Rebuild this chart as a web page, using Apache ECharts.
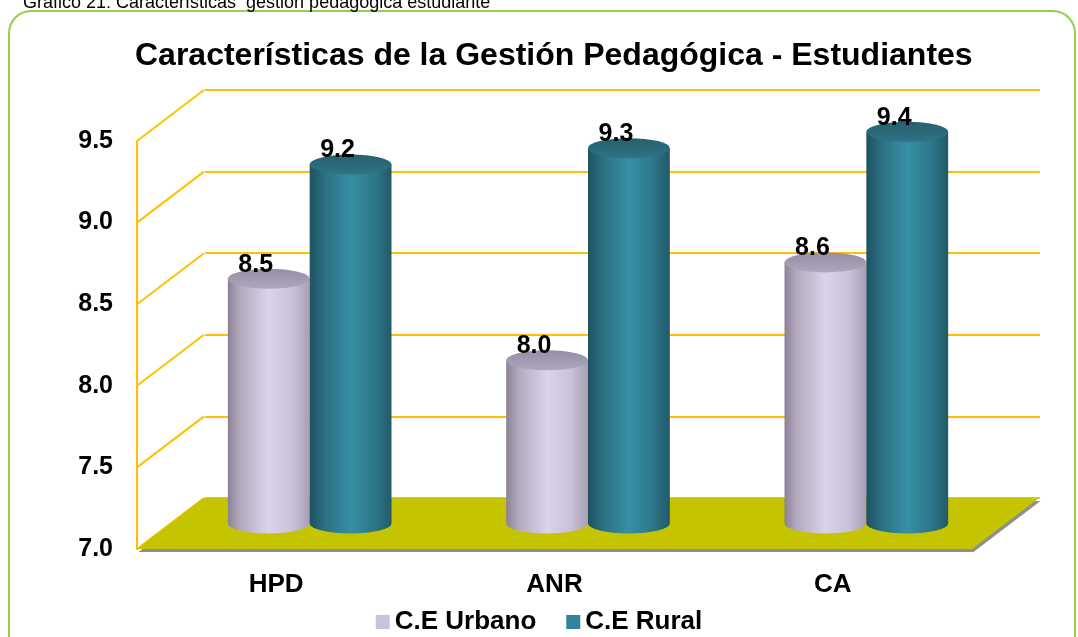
<!DOCTYPE html>
<html>
<head>
<meta charset="utf-8">
<script src="https://cdn.jsdelivr.net/npm/echarts@6/dist/echarts.min.js"></script>
<style>
  html, body { margin: 0; padding: 0; background: #fff; }
  #chart { width: 1078px; height: 637px; }
</style>
</head>
<body>
<div id="chart"></div>
<script>
// datos
var categorias = ['HPD', 'ANR', 'CA'];
var urbano = [8.5, 8.0, 8.6];
var rural = [9.2, 9.3, 9.4];
var yTicks = [7.0, 7.5, 8.0, 8.5, 9.0, 9.5];
var yMin = 7, yMax = 9.5, yStep = 0.5;

// profundidad del "3D"
var DX = 67, DY = -51;
var FONT = '"Liberation Sans", Arial, sans-serif';

var myChart = echarts.init(document.getElementById('chart'));

function cilindro(side, topA, topB, stops) {
    return function (params, api) {
        var cat = api.value(0), val = api.value(1);
        var band = api.size([1, 0])[0];
        var rx = band * 0.147, ry = 10;
        var top = api.coord([cat, val]);
        var base = api.coord([cat, yMin]);
        var cx = top[0] + DX / 2 + side * rx;
        var yt = top[1] + DY / 2;
        var yb = base[1] + DY / 2;
        var body = 'M' + (cx - rx) + ' ' + yt + ' L' + (cx - rx) + ' ' + yb +
            ' A' + rx + ' ' + ry + ' 0 0 0 ' + (cx + rx) + ' ' + yb +
            ' L' + (cx + rx) + ' ' + yt + ' Z';
        var tapa = 'M' + (cx - rx) + ' ' + yt +
            ' A' + rx + ' ' + ry + ' 0 1 0 ' + (cx + rx) + ' ' + yt +
            ' A' + rx + ' ' + ry + ' 0 1 0 ' + (cx - rx) + ' ' + yt + ' Z';
        return {
            type: 'group',
            children: [{
                type: 'path',
                shape: { pathData: body },
                style: { fill: new echarts.graphic.LinearGradient(0, 0, 1, 0, stops) }
            }, {
                type: 'path',
                shape: { pathData: tapa },
                style: {
                    fill: new echarts.graphic.LinearGradient(0, 0, 0, 1, [
                        { offset: 0, color: topA }, { offset: 1, color: topB }
                    ])
                }
            }, {
                type: 'text',
                style: {
                    text: val.toFixed(1),
                    x: cx - 13,
                    y: yt - 14,
                    align: 'center',
                    verticalAlign: 'middle',
                    font: 'bold 25px ' + FONT,
                    fill: '#000'
                }
            }]
        };
    };
}

var option = {
    animation: false,
    color: ['#CCC1DA', '#31849B'],
    graphic: [{
        type: 'rect',
        shape: { x: 9, y: 11, width: 1066, height: 680, r: 22 },
        style: { fill: 'none', stroke: '#92D050', lineWidth: 2 }
    }, {
        type: 'text',
        style: {
            text: 'Gráfico 21: Características  gestión pedagógica estudiante',
            x: 23, y: 12,
            verticalAlign: 'bottom',
            font: '18px ' + FONT,
            fill: '#000'
        }
    }],
    title: {
        text: 'Características de la Gestión Pedagógica - Estudiantes',
        left: 130,
        top: 35,
        textStyle: { fontFamily: FONT, fontSize: 32, fontWeight: 'bold', color: '#000' }
    },
    legend: {
        data: ['C.E Urbano', 'C.E Rural'],
        bottom: 2,
        padding: 0,
        left: 'center',
        icon: 'rect',
        itemWidth: 14,
        itemHeight: 14,
        itemGap: 30,
        textStyle: { fontFamily: FONT, fontSize: 26, fontWeight: 'bold', color: '#000' }
    },
    grid: [
        { left: 137, right: 106, top: 141, bottom: 88 },
        { left: 205, right: 38, top: 90, bottom: 139 }
    ],
    xAxis: [{
        type: 'category',
        gridIndex: 0,
        data: categorias,
        axisLine: { show: false },
        axisTick: { show: false },
        axisLabel: { margin: 23, fontFamily: FONT, fontSize: 26, fontWeight: 'bold', color: '#000' }
    }, {
        type: 'category',
        gridIndex: 1,
        data: categorias,
        show: false
    }],
    yAxis: [{
        type: 'value',
        gridIndex: 0,
        min: yMin, max: yMax, interval: yStep,
        axisLine: { show: true, lineStyle: { color: '#FFC000', width: 2 } },
        axisTick: { show: false },
        splitLine: { show: false },
        axisLabel: {
            margin: 24, fontFamily: FONT, fontSize: 25, fontWeight: 'bold', color: '#000',
            formatter: function (v) { return v.toFixed(1); }
        }
    }, {
        type: 'value',
        gridIndex: 1,
        min: yMin, max: yMax, interval: yStep,
        axisLine: { show: false },
        axisTick: { show: false },
        axisLabel: { show: false },
        splitLine: { show: true, lineStyle: { color: '#FFC000', width: 2 } }
    }],
    series: [{
        // tramos inclinados de la pared izquierda
        type: 'custom',
        xAxisIndex: 0, yAxisIndex: 0,
        z: 1,
        silent: true,
        data: yTicks.map(function (v) { return [0, v]; }),
        renderItem: function (params, api) {
            var y = api.coord([0, api.value(1)])[1];
            var x = params.coordSys.x;
            return {
                type: 'line',
                shape: { x1: x, y1: y, x2: x + DX, y2: y + DY },
                style: { stroke: '#FFC000', lineWidth: 2 }
            };
        }
    }, {
        // piso
        type: 'custom',
        xAxisIndex: 0, yAxisIndex: 0,
        z: 2,
        silent: true,
        data: [[0, yMin]],
        renderItem: function (params, api) {
            var c = params.coordSys;
            var yb = api.coord([0, yMin])[1];
            var pts = [[c.x, yb], [c.x + DX, yb + DY], [c.x + c.width + DX, yb + DY], [c.x + c.width, yb]];
            var sombra = pts.map(function (p) { return [p[0] + 1.5, p[1] + 3]; });
            return {
                type: 'group',
                children: [
                    { type: 'polygon', shape: { points: sombra }, style: { fill: '#8E8E8E' } },
                    { type: 'polygon', shape: { points: pts }, style: { fill: '#C4C400' } }
                ]
            };
        }
    }, {
        name: 'C.E Urbano',
        type: 'custom',
        xAxisIndex: 0, yAxisIndex: 0,
        z: 3,
        itemStyle: { color: '#CCC1DA' },
        data: urbano.map(function (v, i) { return [i, v]; }),
        renderItem: cilindro(-1, '#978DA4', '#AFA6BD', [
            { offset: 0, color: '#8B8296' },
            { offset: 0.15, color: '#B3AABF' },
            { offset: 0.5, color: '#DBD3EA' },
            { offset: 0.8, color: '#C9C0D8' },
            { offset: 1, color: '#A79EB4' }
        ])
    }, {
        name: 'C.E Rural',
        type: 'custom',
        xAxisIndex: 0, yAxisIndex: 0,
        z: 4,
        itemStyle: { color: '#31849B' },
        data: rural.map(function (v, i) { return [i, v]; }),
        renderItem: cilindro(1, '#27606F', '#2E7386', [
            { offset: 0, color: '#1E5262' },
            { offset: 0.2, color: '#2C7284' },
            { offset: 0.5, color: '#378FA5' },
            { offset: 0.8, color: '#2D7689' },
            { offset: 1, color: '#215A69' }
        ])
    }]
};

myChart.setOption(option);
</script>
</body>
</html>
